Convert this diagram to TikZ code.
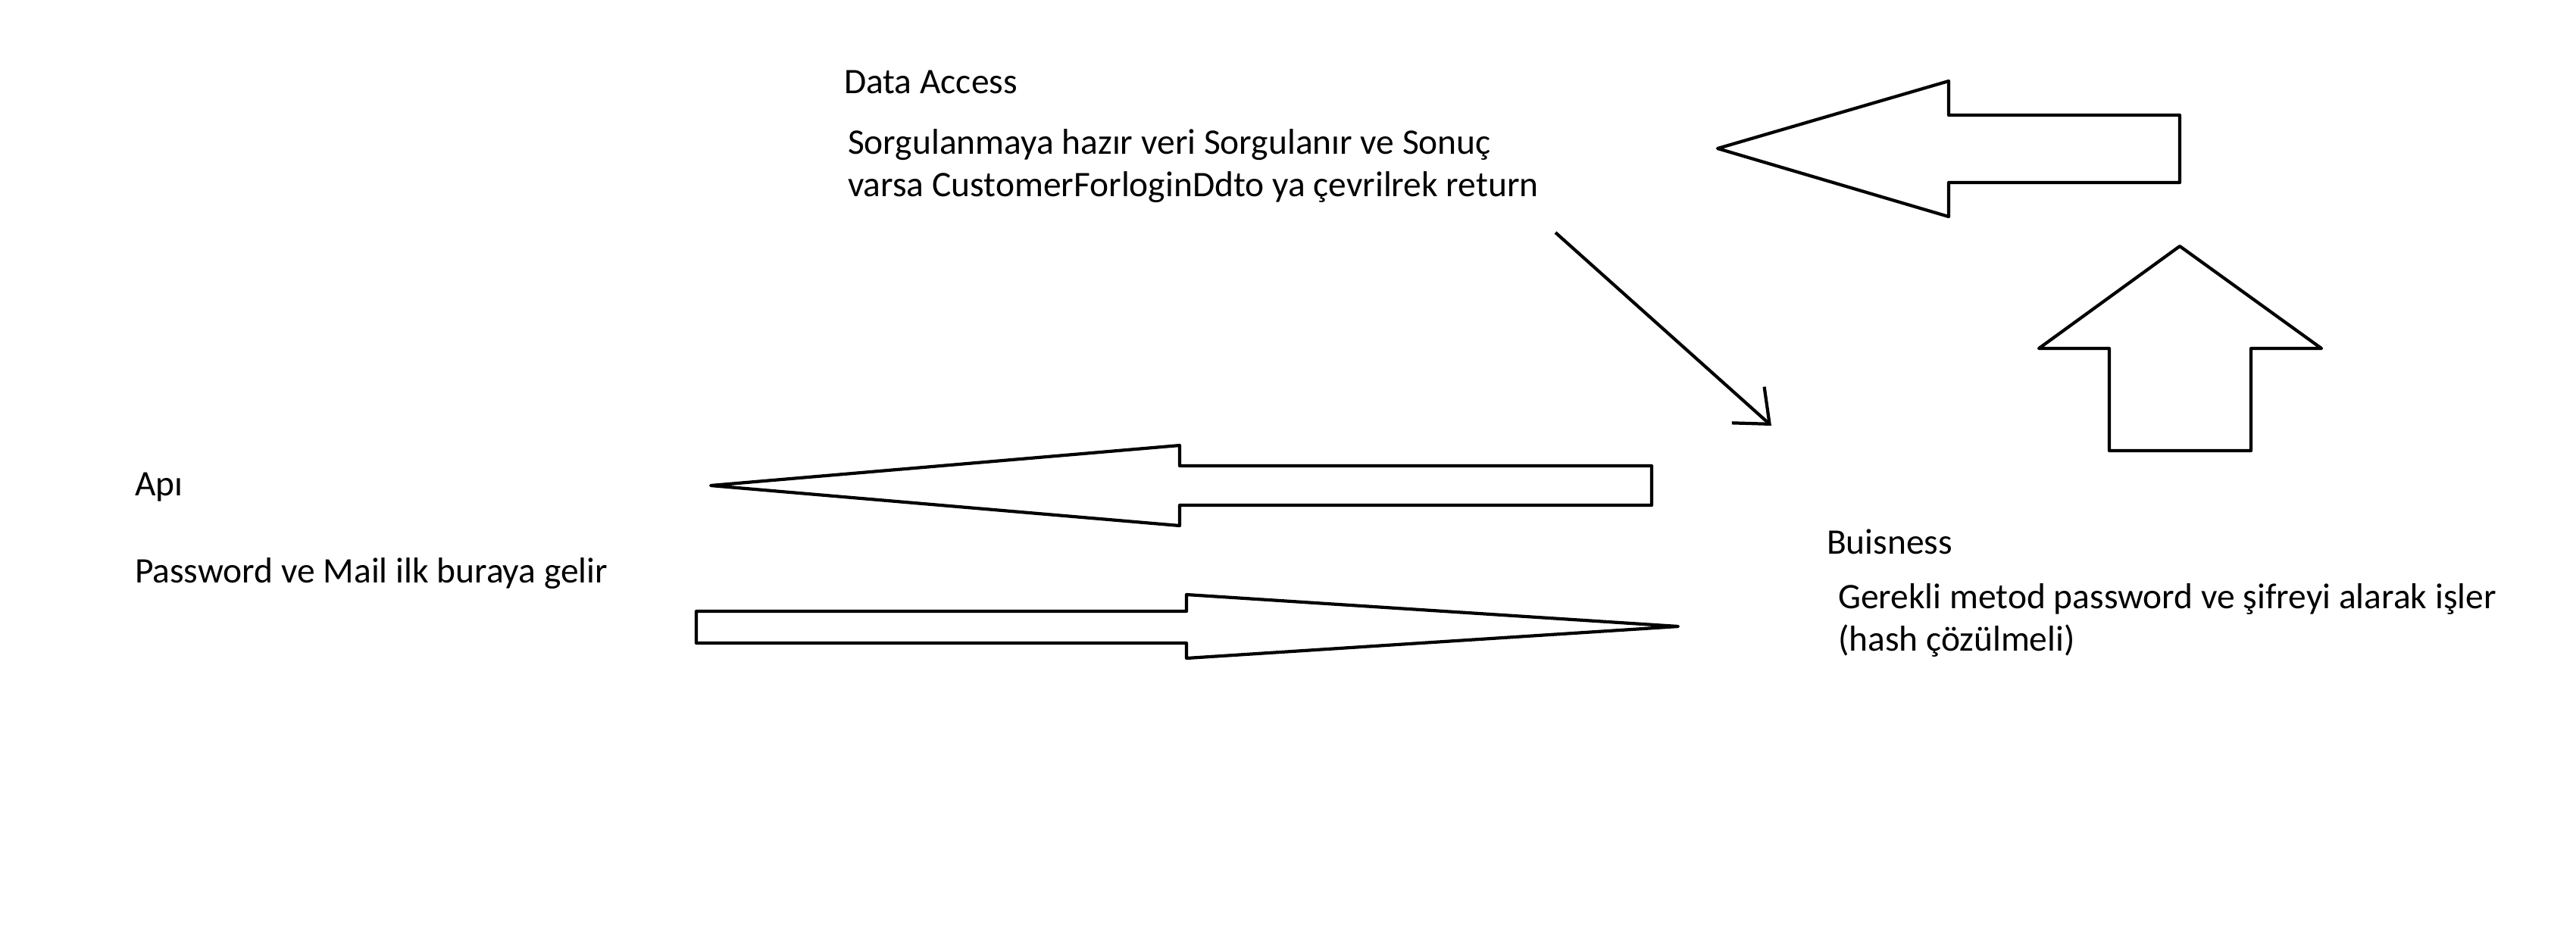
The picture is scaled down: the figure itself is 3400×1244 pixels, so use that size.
\documentclass[tikz,border=0pt]{standalone}
\usepackage{fontspec}
\setmainfont{Carlito}
\usetikzlibrary{arrows.meta}

\begin{document}
\begin{tikzpicture}[x=0.01cm, y=-0.01cm, line width=1.2pt,
  every node/.style={inner sep=0pt, anchor=base west, font=\fontsize{13.5pt}{15.8pt}\selectfont},
  every text node part/.style={align=left},
  blockarrow/.style={draw, line join=round}]
 \useasboundingbox (0,0) rectangle (3400,1244);

 \node(dataTitle) at (1112,123) {Data Access};
 \node(dataText) at (1117,259) {Sorgulanmaya hazır veri Sorgulanır ve Sonuç \\ varsa CustomerForloginDdto ya çevrilrek return};

 \node(apiTitle) at (176,654) {Apı};
 \node(apiText) at (176,769) {Password ve Mail ilk buraya gelir};

 \node(busTitle) at (2409,731) {Buisness};
 \node(busText) at (2424,859) {Gerekli metod password ve şifreyi alarak işler \\ (hash çözülmeli)};

 \coordinate (dataOut) at (2053,307);
 \coordinate (busIn) at (2338,562);
 \draw[-{Straight Barb[length=3.8mm, width=6.4mm]}] (dataOut) -- (busIn);

 \draw[blockarrow] (2267,196) -- (2572,107) -- (2572,152) -- (2877,152) -- (2877,241) -- (2572,241) -- (2572,286) -- cycle;
 \draw[blockarrow] (2877,325) -- (3064,460) -- (2971,460) -- (2971,595) -- (2784,595) -- (2784,460) -- (2691,460) -- cycle;
 \draw[blockarrow] (938,641) -- (1557,588) -- (1557,615) -- (2180,615) -- (2180,667) -- (1557,667) -- (1557,694) -- cycle;
 \draw[blockarrow] (2215,827) -- (1566,869) -- (1566,849) -- (919,849) -- (919,807) -- (1566,807) -- (1566,785) -- cycle;

\end{tikzpicture}
\end{document}
